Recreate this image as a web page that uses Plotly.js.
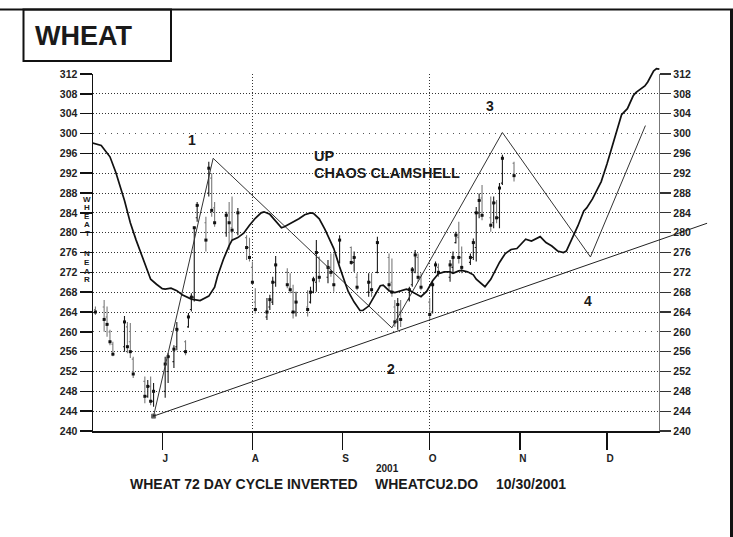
<!DOCTYPE html>
<html>
<head>
<meta charset="utf-8">
<script src="https://cdn.plot.ly/plotly-3.0.1.min.js"></script>
<style>
html,body{margin:0;padding:0;background:#fff;}
#chart{width:733px;height:537px;}
</style>
</head>
<body>
<div id="chart"></div>
<script>
// ---------------- DATA ----------------
const monthLabels = ['J','A','S','O','N','D'];
const monthDates = ['2001-07-01','2001-08-01','2001-09-01','2001-10-01','2001-11-01','2001-12-01'];
const gridMonthDates = ['2001-08-01','2001-10-01'];
const priceTicks = [240,244,248,252,256,260,264,268,272,276,280,284,288,292,296,300,304,308,312];
const denseGrid = [244,248,252,256,264,268,272,276,280,284,288,292,296,304,308];
const sparseGrid = [260,300,312];

const barDates = ['2001-06-08','2001-06-11','2001-06-12','2001-06-13','2001-06-14','2001-06-18','2001-06-19','2001-06-20','2001-06-21','2001-06-25','2001-06-26','2001-06-27','2001-06-28',
'2001-07-02','2001-07-03','2001-07-05','2001-07-06','2001-07-09','2001-07-10','2001-07-11','2001-07-12','2001-07-13','2001-07-16','2001-07-17','2001-07-18','2001-07-19','2001-07-23','2001-07-24','2001-07-25','2001-07-27','2001-07-30','2001-07-31',
'2001-08-01','2001-08-02','2001-08-06','2001-08-07','2001-08-08','2001-08-09','2001-08-13','2001-08-14','2001-08-15','2001-08-16','2001-08-20','2001-08-21','2001-08-22','2001-08-23','2001-08-24','2001-08-27','2001-08-28','2001-08-29','2001-08-31',
'2001-09-04','2001-09-05','2001-09-06','2001-09-10','2001-09-11','2001-09-13','2001-09-17','2001-09-18','2001-09-19','2001-09-20','2001-09-21','2001-09-24','2001-09-25','2001-09-26','2001-09-27','2001-09-28',
'2001-10-01','2001-10-02','2001-10-03','2001-10-04','2001-10-08','2001-10-09','2001-10-10','2001-10-11','2001-10-12','2001-10-15','2001-10-16','2001-10-17','2001-10-18','2001-10-19','2001-10-22','2001-10-23','2001-10-24','2001-10-25','2001-10-26','2001-10-30'];
const barOpen = [264.5,265,263,260,257.5,257,261,258,254.5,250,247,249,246,
248,252,254,257,258,261,264.5,267,283,282,288,291,285,280,284,281,280,279,277,
273,266,263,265,266,270,272,269,268,264,265,266,268,270,275,271,273,272,274,
277,274,271,268,270,272,275,270,265,262,264,266.5,269.5,272,275,271,
266,264,272,273,271,273,278,279,275,274,275,277,284,287,283,282,286,283,290,294];
const barHigh = [265.1,266.4,265.1,260.4,258,263.2,262,261.8,255,251,250.3,251,249.7,
255,255.7,257.3,262,258.3,263.8,267.8,281.2,286.2,283.2,294.3,292,286.2,284.2,286.2,287.3,285,279.5,279,
274.2,268.8,266.8,267.5,271.1,275.3,272.8,271.8,269.5,268.1,268.4,269.1,271.1,278.5,275.2,274.5,275.8,275.8,279.5,
277.2,276.2,271.8,271.8,271.8,279.2,275.8,274.8,266.4,266.8,266.4,269.1,273.1,276.5,275.8,271.8,
266.8,270.1,274.2,273.8,274.5,276.2,280.2,282.2,277.2,275.8,278.8,285.2,287.9,289.6,287.3,287.3,286.6,290,295.7,294.3];
const barLow = [263.4,260,259,257.3,255.1,256,255.7,254.7,250.7,245.6,246.7,245.2,244.9,
246.7,249.7,252.7,256.3,255.3,260.8,264.1,266.1,282.2,276.2,287.3,283.2,281.2,279.2,276.5,278.5,279.5,274.5,274.2,
269.5,263.7,262.4,264.4,265.4,269.1,268.8,267.8,262.7,263.1,263.1,265.7,267.8,268.1,270,269.8,271.1,268.1,273.8,
273.5,272.1,268.4,267.1,267.1,271.8,268.1,267.1,261,260.4,261,266.1,269.1,271.8,270.1,268.4,
262.4,263.7,271.8,271.1,270.1,271.8,277.8,273.8,271.8,273.5,274.5,274.2,282.9,282.5,280.2,280.9,281.9,280.9,289.6,290.3];
const barClose = [264,262.5,261.5,258,255.5,262,257,256,251.5,247,249,246,248,
253.5,255,256.5,260.5,256,263,267,281,285.5,278.5,293,284.5,282,283.5,282,280.5,284,277,275,
270,264.5,264,266.5,270,273.5,269.5,268.5,264,266,264.5,268,270.5,276,271,273,272,269.5,278.5,
274,275,269,270,268.5,278,269.5,268,262,265.5,262.5,268.5,272.5,275.5,271,269,
263.5,269.5,273.5,272,273.5,275,279.5,275,273,275,278,284,286.5,283.5,281.5,286,283,289,295,291.5];

const cycleDates = ['2001-06-07','2001-06-10','2001-06-13','2001-06-15','2001-06-18','2001-06-20','2001-06-22','2001-06-24','2001-06-26','2001-06-27','2001-06-29',
'2001-07-01','2001-07-02','2001-07-04','2001-07-06','2001-07-08','2001-07-11','2001-07-14','2001-07-17','2001-07-19','2001-07-20','2001-07-22','2001-07-24','2001-07-25','2001-07-27','2001-07-29','2001-07-31',
'2001-08-02','2001-08-04','2001-08-05','2001-08-07','2001-08-09','2001-08-10','2001-08-11','2001-08-12','2001-08-13','2001-08-15','2001-08-17','2001-08-19','2001-08-21','2001-08-22','2001-08-24','2001-08-26','2001-08-27','2001-08-29','2001-08-31',
'2001-09-01','2001-09-02','2001-09-03','2001-09-05','2001-09-07','2001-09-08','2001-09-10','2001-09-12','2001-09-14','2001-09-15','2001-09-16','2001-09-17','2001-09-19','2001-09-21','2001-09-23','2001-09-24','2001-09-26','2001-09-28','2001-09-30',
'2001-10-02','2001-10-04','2001-10-06','2001-10-08','2001-10-09','2001-10-11','2001-10-12','2001-10-14','2001-10-16','2001-10-17','2001-10-19','2001-10-20','2001-10-22','2001-10-24','2001-10-25','2001-10-27','2001-10-29','2001-10-31',
'2001-11-02','2001-11-03','2001-11-05','2001-11-08','2001-11-10','2001-11-12','2001-11-14','2001-11-16','2001-11-17','2001-11-19','2001-11-21','2001-11-23','2001-11-24','2001-11-26','2001-11-29',
'2001-12-01','2001-12-03','2001-12-05','2001-12-06','2001-12-08','2001-12-10','2001-12-11','2001-12-13','2001-12-14','2001-12-15','2001-12-16','2001-12-17','2001-12-18','2001-12-19'];
const cycleValues = [298.1,297.6,295.3,292.2,286.5,282,278.5,275.2,271.8,270.6,269.6,
268.7,268.6,268.8,268.3,267.4,266.6,266.3,267.2,269,271.2,274.6,277.4,278.5,279.0,279.9,281.5,
282.9,284.0,284.2,283.7,282.4,281.7,281.0,281.2,281.5,282.1,282.8,283.6,284.0,283.9,282.8,280.6,279.4,276.8,273.1,
271.2,269.7,268.1,266.0,264.3,264.3,265.2,267.4,269.3,269.4,268.9,268.3,267.9,268.2,268.6,268.4,267.8,267.1,268.2,
270.3,271.7,272.1,272.1,271.8,272.3,272.4,272.1,271.5,270.6,269.5,269.1,270.6,273.0,274.0,275.8,276.6,276.8,
278.2,278.7,278.3,279.2,278.0,277.3,276.3,276.0,276.3,278.9,281.4,284.4,285.0,286.8,290.3,
293.9,297.8,302.0,303.8,305.0,307.6,308.3,309.1,309.6,310.4,311.4,312.6,313.1,313.0];

const zigDates = ['2001-06-28','2001-07-18 12:00','2001-09-18','2001-10-26','2001-11-25 07:00','2001-12-14 05:00'];
const zigValues = [243, 295, 260.8, 300.2, 275.1, 301.6];

const trendDates = ['2001-06-28','2002-01-04 10:00'];
const trendValues = [243, 281.9];

const xRange = ['2001-06-07 04:00','2001-12-18 21:00'];
const yRange = [240, 312];

// ---------------- LAYOUT HELPERS ----------------
const W = 733, H = 537;
const L = 93, R = 712, T = 62, B = 431;
function fx(x){ return (x - L) / (R - L); }
function fy(y){ return (B - y) / (B - T); }
const xDom = fx(659), yDom = fy(74);
function toStr(ms){ return new Date(ms).toISOString().replace('T',' ').replace('Z',''); }
const t0 = Date.parse(xRange[0].replace(' ','T') + ':00Z');
const t1 = Date.parse(xRange[1].replace(' ','T') + ':00Z');
const x2Range = [toStr(t0), toStr(t0 + (t1 - t0) / xDom)];
const y2Range = [yRange[0], yRange[0] + (yRange[1] - yRange[0]) / yDom];

const FONT = 'Liberation Sans, Arial, Helvetica, sans-serif';
const tickFont = {family: FONT, size: 10.5, color: '#222', weight: 'bold'};

// ---------------- TRACES ----------------
const data = [
  {type: 'scatter', x: [], y: [], xaxis: 'x3', yaxis: 'y', hoverinfo: 'skip', showlegend: false},
  {type: 'scatter', x: [], y: [], xaxis: 'x', yaxis: 'y3', hoverinfo: 'skip', showlegend: false},
  {type: 'scatter', x: [], y: [], xaxis: 'x', yaxis: 'y4', hoverinfo: 'skip', showlegend: false},
  {type: 'scatter', x: [], y: [], xaxis: 'x', yaxis: 'y5', hoverinfo: 'skip', showlegend: false},
  {
    type: 'ohlc', x: barDates, open: barOpen, high: barHigh, low: barLow, close: barClose,
    xaxis: 'x', yaxis: 'y', tickwidth: 0.5, showlegend: false, hoverinfo: 'skip',
    increasing: {line: {color: '#1a1a1a', width: 1.1}},
    decreasing: {line: {color: '#7a7a7a', width: 1.1}}
  },
  {
    type: 'scatter', mode: 'markers', x: barDates, y: barClose, xaxis: 'x', yaxis: 'y',
    marker: {symbol: 'square', size: 3, color: '#111'}, showlegend: false, hoverinfo: 'skip'
  },
  {
    type: 'scatter', mode: 'lines', x: trendDates, y: trendValues, xaxis: 'x2', yaxis: 'y2',
    line: {color: '#222', width: 1}, showlegend: false, hoverinfo: 'skip'
  },
  {
    type: 'scatter', mode: 'lines+markers', x: zigDates, y: zigValues, xaxis: 'x2', yaxis: 'y2',
    line: {color: '#333', width: 1},
    marker: {symbol: 'square', size: [4,0,0,0,0,0], color: '#111'},
    showlegend: false, hoverinfo: 'skip'
  },
  {
    type: 'scatter', mode: 'lines', x: cycleDates, y: cycleValues, xaxis: 'x2', yaxis: 'y2',
    line: {color: '#111', width: 1.7}, showlegend: false, hoverinfo: 'skip'
  }
];

// ---------------- ANNOTATIONS ----------------
const annotations = [];
function addText(text, x, y, size, xanchor, weight){
  annotations.push({
    xref: 'paper', yref: 'paper', x: fx(x), y: fy(y), text: text, showarrow: false,
    xanchor: xanchor || 'center', yanchor: 'middle',
    font: {family: FONT, size: size, color: '#1a1a1a', weight: weight || 'bold'}
  });
}
addText('WHEAT', 33, 36, 27, 'left');
addText('1', 192, 140, 14);
addText('UP', 312, 155.5, 14.5, 'left');
addText('CHAOS CLAMSHELL', 312, 172.5, 14.5, 'left');
addText('3', 490, 106, 14);
addText('2', 391, 369, 14);
addText('4', 588, 301, 14);
addText('2001', 387, 468, 10);
addText('WHEAT 72 DAY CYCLE INVERTED', 128, 484, 14, 'left');
addText('WHEATCU2.DO', 373, 484, 14, 'left');
addText('10/30/2001', 494, 484, 14, 'left');
const titleLetters = ['W','H','E','A','T','','N','E','A','R'];
const titleLetterY = [199, 207.5, 216, 224.5, 233, 0, 254, 262.5, 271, 279.5];
titleLetters.forEach(function(ch, i){ if(ch) addText(ch, 87, titleLetterY[i], 8); });

// ---------------- SHAPES ----------------
const shapes = [
  {type: 'line', xref: 'paper', yref: 'paper', x0: fx(0), x1: fx(733), y0: fy(9.5), y1: fy(9.5), line: {color: '#111', width: 2}},
  {type: 'line', xref: 'paper', yref: 'paper', x0: fx(731.5), x1: fx(731.5), y0: fy(9.5), y1: fy(537), line: {color: '#111', width: 3}},
  {type: 'rect', xref: 'paper', yref: 'paper', x0: fx(23.5), x1: fx(171), y0: fy(9.5), y1: fy(61), line: {color: '#111', width: 2}}
];

const baseY = {range: yRange, domain: [0, yDom], fixedrange: true};

const layout = {
  width: W, height: H,
  margin: {l: L, r: W - R, t: T, b: H - B, pad: 0},
  paper_bgcolor: '#ffffff', plot_bgcolor: 'rgba(0,0,0,0)',
  showlegend: false, dragmode: false,
  font: {family: FONT, color: '#222'},
  xaxis: {
    type: 'date', range: xRange, domain: [0, xDom], anchor: 'y',
    tickmode: 'array', tickvals: monthDates, ticktext: monthLabels,
    ticks: 'outside', ticklen: 17, tickwidth: 1.5, tickcolor: '#111',
    showline: true, linecolor: '#111', linewidth: 1.5,
    showgrid: false, zeroline: false, tickfont: Object.assign({}, tickFont, {size: 10}),
    ticklabelshift: 3, rangeslider: {visible: false}, fixedrange: true
  },
  xaxis2: {type: 'date', range: x2Range, domain: [0, 1], anchor: 'y2', visible: false, fixedrange: true},
  xaxis3: {
    type: 'date', range: xRange, overlaying: 'x', anchor: 'y',
    tickmode: 'array', tickvals: gridMonthDates, showticklabels: false, ticks: '',
    showgrid: true, gridcolor: '#333', gridwidth: 1, griddash: '1px,2px',
    showline: false, zeroline: false, fixedrange: true
  },
  yaxis: Object.assign({}, baseY, {
    anchor: 'x', tickmode: 'array', tickvals: priceTicks,
    ticks: 'outside', ticklen: 12, tickwidth: 1.5, tickcolor: '#111',
    showline: true, linecolor: '#111', linewidth: 1.5,
    showgrid: false, zeroline: false, tickfont: tickFont
  }),
  yaxis2: {range: y2Range, domain: [0, 1], anchor: 'x2', visible: false, fixedrange: true},
  yaxis3: Object.assign({}, baseY, {
    overlaying: 'y', side: 'right', anchor: 'x', tickmode: 'array', tickvals: priceTicks,
    ticks: 'outside', ticklen: 11, tickwidth: 1.2, tickcolor: '#333',
    showline: true, linecolor: '#777', linewidth: 1.2,
    showgrid: false, zeroline: false, tickfont: tickFont
  }),
  yaxis4: Object.assign({}, baseY, {
    overlaying: 'y', anchor: 'x', tickmode: 'array', tickvals: denseGrid,
    showticklabels: false, ticks: '', showline: false, zeroline: false,
    showgrid: true, gridcolor: '#333', gridwidth: 1, griddash: '1px,2px'
  }),
  yaxis5: Object.assign({}, baseY, {
    overlaying: 'y', anchor: 'x', tickmode: 'array', tickvals: sparseGrid,
    showticklabels: false, ticks: '', showline: false, zeroline: false,
    showgrid: true, gridcolor: '#555', gridwidth: 1, griddash: '1px,5px'
  }),
  annotations: annotations,
  shapes: shapes
};

Plotly.newPlot('chart', data, layout, {staticPlot: true, displayModeBar: false});
</script>
</body>
</html>
